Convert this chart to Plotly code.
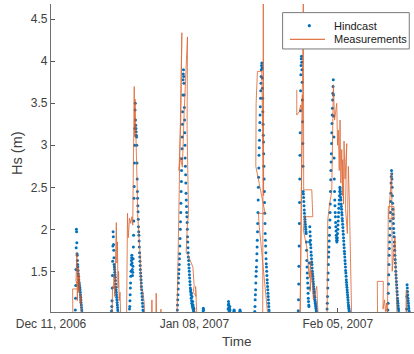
import numpy as np
import pandas as pd
import plotly.graph_objects as go

T0 = pd.Timestamp("2006-12-11 00:00")

# ---- Hindcast: hourly Hs (m); each block = (first hour after T0, hourly values)
hind_dec15 = (114, [1.04, 1.18, 1.33, 1.52, 1.78, 2.00, 1.97, 1.84, 1.71, 1.69, 1.63, 1.58, 1.55,
                    1.51, 1.47, 1.44, 1.40, 1.37, 1.35, 1.33, 1.31, 1.30, 1.28, 1.25, 1.22, 1.19,
                    1.16, 1.13, 1.10, 1.07, 1.04, 1.01])
hind_dec22 = (284, [1.03, 1.08, 1.15, 1.30, 1.45, 1.62, 1.80, 1.97, 1.91, 1.82, 1.75, 1.66, 1.58,
                    1.55, 1.52, 1.49, 1.46, 1.43, 1.39, 1.35, 1.31, 1.28, 1.25, 1.22, 1.19, 1.16,
                    1.13, 1.10, 1.07, 1.04, 1.01])
hind_dec26 = (368, [1.05, 1.08, 1.15, 1.22, 1.30, 1.36, 1.44, 1.50, 1.58, 1.63, 1.66, 1.69, 1.60,
                    1.52, 1.45, 1.49, 1.56, 1.65, 1.79, 1.93, 2.10, 2.37, 2.51, 2.79, 3.00, 3.20,
                    3.42, 3.50, 3.30, 3.24, 3.20, 3.16, 3.12, 3.10, 3.00, 2.79, 2.60, 2.45, 2.37,
                    2.28, 2.21, 2.12, 2.03, 1.97, 1.93, 1.86, 1.79, 1.72, 1.67, 1.62, 1.57, 1.52,
                    1.48, 1.44, 1.40, 1.36, 1.32, 1.28, 1.24, 1.20, 1.16, 1.12, 1.08, 1.04, 1.01])
hind_jan05 = (592, [1.04, 1.10, 1.16, 1.22, 1.29, 1.36, 1.42, 1.47, 1.52, 1.58, 1.65, 1.71, 1.80,
                    1.89, 2.00, 2.09, 2.20, 2.31, 2.45, 2.57, 2.70, 2.84, 2.96, 3.10, 3.25, 3.40,
                    3.60, 3.78, 3.85, 3.90, 3.82, 3.74, 3.60, 3.45, 3.30, 3.15, 3.00, 2.85, 2.75,
                    2.65, 2.55, 2.43, 2.35, 2.27, 2.20, 2.15, 2.08, 2.00, 1.91, 1.85, 1.78, 1.72,
                    1.67, 1.63, 1.58, 1.54, 1.50, 1.46, 1.42, 1.38, 1.34, 1.30, 1.26, 1.28, 1.22,
                    1.18, 1.24, 1.15, 1.12, 1.20, 1.10, 1.08, 1.14, 1.06, 1.10, 1.04, 1.07, 1.02,
                    1.05, 1.01])
hind_jan10 = (713, [1.03, 1.06, 1.04])
hind_jan15 = (830, [1.05, 1.10, 1.14, 1.11, 1.07, 1.03, 1.02, 1.05, 1.08, 1.04])
hind_jan16 = (857, [1.02, 1.04, 1.03])
hind_jan17 = (885, [1.02, 1.04, 1.02])
hind_jan20 = (955, [1.02, 1.08, 1.16, 1.22, 1.28, 1.36, 1.44, 1.50, 1.55, 1.63, 1.71, 1.79, 1.87,
                    1.97, 2.07, 2.20, 2.35, 2.50, 2.62, 2.73, 2.88, 2.97, 3.06, 3.18, 3.27, 3.36,
                    3.46, 3.56, 3.65, 3.74, 3.82, 3.90, 3.95, 3.98, 3.92, 3.80, 3.68, 3.56, 3.40,
                    3.25, 3.12, 3.04, 2.90, 2.75, 2.60, 2.45, 2.32, 2.19, 2.07, 1.95, 1.87, 1.80,
                    1.72, 1.65, 1.59, 1.55, 1.50, 1.45, 1.40, 1.36, 1.32, 1.28, 1.24, 1.20, 1.16,
                    1.12, 1.08, 1.04, 1.01])
hind_jan29 = (1159, [1.03, 1.16, 1.35, 1.56, 1.80, 2.07, 2.32, 2.60, 2.88, 3.15, 3.41, 3.65, 3.84,
                     3.95, 4.03, 4.06, 3.99, 3.90, 3.75, 3.54, 3.28, 3.02, 2.75, 2.45, 2.42, 2.38,
                     2.33, 2.28, 2.23, 2.19, 2.15, 2.12, 2.09, 2.06, 2.03, 2.00, 1.97, 1.95, 1.85,
                     1.75, 1.63, 1.55, 1.48, 1.42, 1.36, 1.30, 1.24, 1.18, 1.14, 1.10, 1.08, 1.30,
                     1.60, 1.85, 2.03, 1.97, 1.92, 1.87, 1.82, 1.78, 1.73, 1.69, 1.65, 1.61, 1.58,
                     1.54, 1.50, 1.47, 1.44, 1.41, 1.38, 1.35, 1.32, 1.29, 1.26, 1.24, 1.21, 1.19,
                     1.16, 1.14, 1.12, 1.10, 1.08, 1.06, 1.04, 1.02, 1.00])
hind_feb03 = (1294, [1.05, 1.12, 1.20, 1.30, 1.40, 1.48, 1.58, 1.67, 1.73, 1.79, 1.86, 1.93, 2.02,
                     2.11, 2.20, 2.30, 2.45, 2.59, 2.70, 2.80, 2.90, 3.02, 3.15, 3.26, 3.36, 3.44,
                     3.54, 3.62, 3.70, 3.78, 3.60, 3.35, 3.10, 2.85, 2.60, 2.45, 2.35, 2.28, 2.20,
                     2.15, 2.08, 2.03, 1.98, 1.93, 1.90, 1.87, 1.85, 1.87, 1.90, 1.95, 2.00, 2.05,
                     2.10, 2.15, 2.20, 2.25, 2.30, 2.35, 2.40, 2.45, 2.50, 2.48, 2.45, 2.42, 2.38,
                     2.35, 2.30, 2.27, 2.24, 2.20, 2.17, 2.13, 2.10, 2.06, 2.02, 1.98, 1.94, 1.90,
                     1.86, 1.82, 1.78, 1.74, 1.71, 1.67, 1.63, 1.59, 1.55, 1.51, 1.48, 1.44, 1.40,
                     1.37, 1.34, 1.31, 1.28, 1.25, 1.22, 1.19, 1.16, 1.13, 1.10, 1.08, 1.06, 1.04,
                     1.02, 1.00])
hind_feb15 = (1579, [1.04, 1.12, 1.24, 1.35, 1.46, 1.58, 1.69, 1.77, 1.85, 1.93, 2.01, 2.10, 2.20,
                     2.33, 2.43, 2.55, 2.63, 2.70, 2.66, 2.60, 2.50, 2.40, 2.31, 2.24, 2.18, 2.13,
                     2.07, 2.01, 1.96, 1.91, 1.85, 1.80, 1.75, 1.69, 1.64, 1.60, 1.55, 1.50, 1.46,
                     1.42, 1.38, 1.34, 1.30, 1.26, 1.22, 1.18, 1.15, 1.12, 1.09, 1.06, 1.04, 1.01])
hind_feb18 = (1667, [1.05, 1.20, 1.34, 1.30, 1.26, 1.22, 1.18, 1.15, 1.12, 1.09, 1.06, 1.03, 1.01])

hindcast_blocks = [hind_dec15, hind_dec22, hind_dec26, hind_jan05, hind_jan10, hind_jan15,
                   hind_jan16, hind_jan17, hind_jan20, hind_jan29, hind_feb03, hind_feb15,
                   hind_feb18]

# ---- Measurements: buoy records (hours after T0, Hs in m), one list pair per storm
meas_dec15_t = [102.6, 101.2, 126.0, 117.1, 121.3, 123.2, 127.8, 129.7, 133.5, 136.3, 141.0, 144.7]
meas_dec15_v = [0.95, 1.29, 1.29, 1.39, 1.72, 1.15, 1.55, 1.25, 1.45, 1.12, 1.22, 0.95]

meas_dec22_t = [286.1, 288.5, 292.7, 295.5, 298.8, 302.5, 306.3, 308.6, 311.4, 313.8, 316.6,
                319.8, 323.6, 326.9]
meas_dec22_v = [0.95, 1.32, 1.30, 1.45, 1.20, 1.55, 2.08, 1.60, 1.85, 1.30, 1.50, 1.15, 1.25, 0.95]

meas_dec26_t = [354.0, 358.7, 362.0, 364.8, 368.1, 373.7, 379.3, 383.1, 386.3, 390.1, 392.0,
                393.8, 397.1, 400.4, 404.1, 406.0, 410.2, 413.5, 418.2, 421.0, 425.2, 430.8,
                436.9, 439.3]
meas_dec26_v = [0.90, 2.19, 1.90, 2.02, 2.13, 2.07, 2.15, 2.05, 2.60, 3.70, 3.10, 3.55, 3.20,
                2.95, 2.50, 2.19, 2.05, 1.85, 1.67, 1.30, 1.27, 1.26, 1.12, 0.90]

meas_dec31_t = [471.1, 473.0, 474.9, 491.2, 493.1, 495.0, 513.7, 515.1, 516.5]
meas_dec31_v = [0.90, 1.16, 0.90, 0.90, 1.24, 0.90, 0.95, 1.05, 0.95]

meas_jan05_t = [590.5, 597.1, 604.6, 613.5, 608.3, 602.2, 599.9, 606.4, 611.6, 615.8, 624.2,
                632.7, 639.7, 637.8, 644.4, 639.2, 633.6, 641.1, 652.3, 665.0, 671.1, 666.4,
                680.4, 677.6, 685.1]
meas_jan05_v = [0.90, 2.00, 3.40, 4.34, 3.30, 2.82, 2.70, 2.86, 2.80, 2.74, 3.40, 3.95, 4.29,
                3.20, 2.19, 2.05, 1.72, 1.70, 1.63, 1.55, 1.33, 1.25, 1.20, 1.32, 0.90]

meas_jan20_t = [992.3, 995.1, 996.5, 988.1, 967.5, 961.4, 962.4, 960.0, 1003.6, 972.2, 975.5,
                1019.0]
meas_jan20_v = [0.90, 4.90, 2.40, 3.88, 3.88, 3.50, 2.86, 2.75, 2.19, 2.19, 2.05, 0.90]

meas_jan29_t = [1152.0, 1152.0, 1164.2, 1169.8, 1174.5, 1178.7, 1167.5, 1182.9, 1184.3, 1222.3,
                1227.0, 1188.5, 1182.9, 1198.8, 1206.3, 1211.0, 1216.7, 1214.3, 1221.3, 1229.8,
                1245.7, 1253.2]
meas_jan29_v = [3.66, 3.36, 3.40, 3.48, 3.40, 3.60, 0.90, 4.90, 2.47, 2.47, 2.15, 2.15, 1.99,
                1.79, 1.55, 1.42, 1.62, 1.26, 1.50, 1.16, 1.32, 0.90]

meas_feb03_t = [1293.9, 1297.2, 1305.6, 1315.9, 1323.4, 1329.0, 1339.3, 1343.1, 1346.8, 1351.0,
                1354.8, 1358.5, 1362.8, 1366.5, 1367.4, 1371.2, 1373.5, 1378.2, 1386.2, 1380.5,
                1389.0, 1393.7, 1398.3, 1403.9, 1409.6]
meas_feb03_v = [0.90, 2.11, 2.30, 2.45, 3.72, 3.30, 3.50, 3.00, 3.18, 2.70, 3.30, 2.55, 2.95,
                2.40, 2.83, 2.30, 3.05, 2.60, 3.02, 2.25, 1.95, 2.75, 2.35, 1.50, 0.90]

meas_feb14_t = [1530.9, 1529.5, 1557.6, 1556.2, 1563.2, 1567.9, 1572.6, 1577.3, 1581.0, 1607.7,
                1607.7, 1581.9, 1596.9, 1599.2, 1612.4, 1614.7, 1619.4, 1622.6]
meas_feb14_v = [0.90, 1.38, 1.38, 1.05, 1.16, 1.02, 1.12, 0.95, 2.27, 2.27, 2.13, 2.13, 2.67,
                1.50, 1.91, 1.45, 1.20, 0.90]

meas_feb18_t = [1663.9, 1665.3, 1666.7]
meas_feb18_v = [0.90, 1.28, 0.90]

measurement_blocks = [(meas_dec15_t, meas_dec15_v), (meas_dec22_t, meas_dec22_v),
                      (meas_dec26_t, meas_dec26_v), (meas_dec31_t, meas_dec31_v),
                      (meas_jan05_t, meas_jan05_v), (meas_jan20_t, meas_jan20_v),
                      (meas_jan29_t, meas_jan29_v), (meas_feb03_t, meas_feb03_v),
                      (meas_feb14_t, meas_feb14_v), (meas_feb18_t, meas_feb18_v)]

# ---- Axis ticks
x_tick_dates = ["2006-12-11", "2007-01-08", "2007-02-05"]
x_tick_text = ["Dec 11, 2006", "Jan 08, 2007", "Feb 05, 2007"]
y_ticks = [1.5, 2, 2.5, 3, 3.5, 4, 4.5]
x_end_hours = 1701.4
y_limits = [1.0155, 4.682]

BLUE = "#0072BD"
ORANGE = "#D95319"


def to_time(hours):
    return T0 + pd.to_timedelta(np.asarray(hours, dtype=float), unit="h")


# assemble hindcast (hourly stamps inside each block)
h_t, h_v = [], []
for start, vals in hindcast_blocks:
    h_t.extend(to_time(start + np.arange(len(vals))))
    h_v.extend(vals)

# assemble measurements, separated by gaps between storms
m_t, m_v = [], []
for t, v in measurement_blocks:
    m_t.extend(list(to_time(t)) + [None])
    m_v.extend(list(v) + [None])

fig = go.Figure()
fig.add_trace(go.Scatter(x=h_t, y=h_v, mode="markers", name="Hindcast",
                         marker=dict(color=BLUE, size=3.0, line=dict(width=0)),
                         showlegend=False))
fig.add_trace(go.Scatter(x=m_t, y=m_v, mode="lines", name="Measurements",
                         line=dict(color=ORANGE, width=0.85), opacity=0.85,
                         connectgaps=False, showlegend=False))

FONT = "Liberation Sans, Arial, sans-serif"
TXT = "#404040"

fig.update_layout(
    width=414, height=354,
    margin=dict(l=51, r=0, t=4, b=42),
    paper_bgcolor="white", plot_bgcolor="white",
    font=dict(family=FONT, size=12, color=TXT),
    xaxis=dict(type="date",
               range=[T0, T0 + pd.Timedelta(hours=x_end_hours)],
               tickmode="array", tickvals=x_tick_dates, ticktext=x_tick_text,
               ticks="inside", ticklen=4, tickcolor="#555", tickwidth=1,
               showline=True, linecolor="#6f6f6f", linewidth=1.4,
               showgrid=False, zeroline=False,
               tickfont=dict(family=FONT, size=12, color=TXT)),
    yaxis=dict(range=y_limits, tickmode="array", tickvals=y_ticks,
               ticktext=[f"{v:g}" for v in y_ticks],
               ticks="inside", ticklen=4, tickcolor="#555", tickwidth=1,
               showline=True, linecolor="#6f6f6f", linewidth=1.4,
               showgrid=False, zeroline=False,
               tickfont=dict(family=FONT, size=12, color=TXT)),
)

# axis labels
fig.add_annotation(text="Time", xref="paper", yref="paper", x=0.5116, y=-0.0964,
                   xanchor="center", yanchor="middle", showarrow=False,
                   font=dict(family=FONT, size=13.5, color=TXT))
fig.add_annotation(text="Hs (m)", xref="paper", yref="paper", x=-0.0923, y=0.518,
                   xanchor="center", yanchor="middle", textangle=-90, showarrow=False,
                   font=dict(family=FONT, size=14.5, color=TXT))

# legend box
fig.add_shape(type="rect", xref="paper", yref="paper", x0=0.638, x1=0.987, y0=0.854, y1=0.972,
              line=dict(color="#7a7a7a", width=1), fillcolor="white", layer="above")
fig.add_shape(type="circle", xref="paper", yref="paper", xsizemode="pixel", ysizemode="pixel",
              xanchor=0.7116, yanchor=0.9295, x0=-1.6, x1=1.6, y0=-1.6, y1=1.6,
              fillcolor=BLUE, line=dict(width=0), layer="above")
fig.add_shape(type="line", xref="paper", yref="paper", x0=0.6584, x1=0.7548, y0=0.8854, y1=0.8854,
              line=dict(color=ORANGE, width=1), layer="above")
fig.add_annotation(text="Hindcast", xref="paper", yref="paper", x=0.7733, y=0.9295,
                   xanchor="left", yanchor="middle", showarrow=False,
                   font=dict(family=FONT, size=11, color="#202020"))
fig.add_annotation(text="Measurements", xref="paper", yref="paper", x=0.7733, y=0.8854,
                   xanchor="left", yanchor="middle", showarrow=False,
                   font=dict(family=FONT, size=11, color="#202020"))

fig.write_html("out.html")
